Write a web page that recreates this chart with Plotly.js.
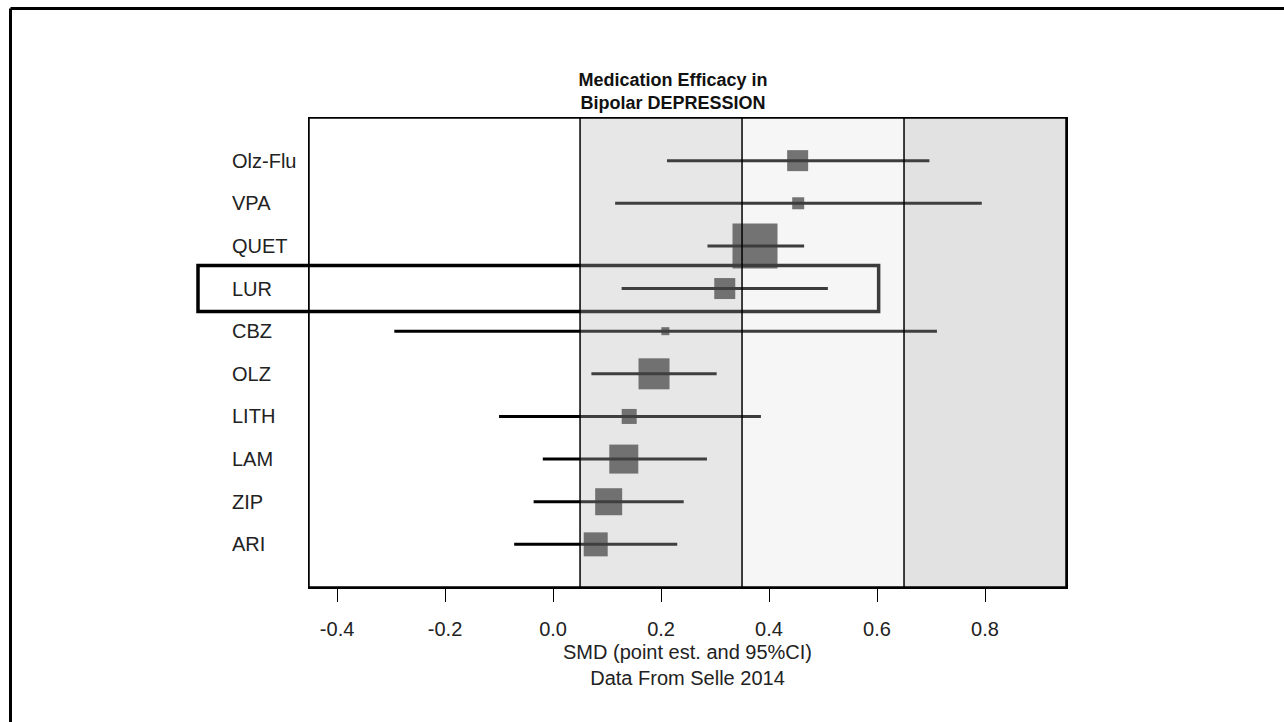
<!DOCTYPE html>
<html>
<head>
<meta charset="utf-8">
<script src="https://cdn.plot.ly/plotly-3.0.1.min.js"></script>
<style>html,body{margin:0;padding:0;background:#fff;}#chart{width:1284px;height:722px;}</style>
</head>
<body>
<div id="chart"></div>
<script>
// ---- data (top row first) ----
const drugs = ["Olz-Flu", "VPA", "QUET", "LUR", "CBZ", "OLZ", "LITH", "LAM", "ZIP", "ARI"];
const smd   = [0.453, 0.454, 0.374, 0.318, 0.208, 0.187, 0.141, 0.131, 0.103, 0.079];
const ciLow = [0.211, 0.115, 0.286, 0.127, -0.294, 0.071, -0.100, -0.019, -0.036, -0.072];
const ciHigh= [0.697, 0.794, 0.465, 0.509, 0.711, 0.303, 0.385, 0.285, 0.242, 0.230];
const weightBox = [21, 12, 45, 21, 8, 31, 15, 29, 27, 24];   // drawn square side (px), study weight
const bandEdges = [0.05, 0.35, 0.65, 0.95];
const tickVals  = [-0.4, -0.2, 0.0, 0.2, 0.4, 0.6, 0.8];
const tickLabels= ["-0.4", "-0.2", "0.0", "0.2", "0.4", "0.6", "0.8"];
const highlighted = "LUR";
const titleLines = ["Medication Efficacy in", "Bipolar DEPRESSION"];

// ---- layout geometry ----
const W = 1284, H = 722;
const mL = 309, mR = 218, mT = 118, mB = 135;
const xRange = [-0.452, 0.95];
const plotW = W - mL - mR, plotH = H - mT - mB;
const pxX = p => (p - mL) / plotW;          // page px -> paper x
const pxY = p => (H - mB - p) / plotH;      // page px -> paper y
const dataToPaperX = v => (v - xRange[0]) / (xRange[1] - xRange[0]);
const FONT = "Liberation Sans, Arial, sans-serif";

const n = drugs.length;
const yPos = drugs.map((d, i) => n - i);   // top row = n

const trace = {
  type: "scatter",
  mode: "markers",
  x: smd,
  y: yPos,
  marker: { symbol: "square", size: weightBox, color: "#000", line: { width: 0 } },
  error_x: {
    type: "data", symmetric: false,
    array: ciHigh.map((h, i) => h - smd[i]),
    arrayminus: ciLow.map((l, i) => smd[i] - l),
    thickness: 3, width: 0, color: "#000"
  },
  hoverinfo: "skip",
  showlegend: false
};

const shapes = [];
// outer frame (top and left edges)
shapes.push({ type: "line", xref: "paper", yref: "paper", x0: pxX(10.5), x1: pxX(W), y0: pxY(8.5), y1: pxY(8.5), line: { color: "#000", width: 3 } });
shapes.push({ type: "line", xref: "paper", yref: "paper", x0: pxX(10.5), x1: pxX(10.5), y0: pxY(8.5), y1: pxY(H), line: { color: "#000", width: 3 } });
// highlight box around LUR row
const hi = n - drugs.indexOf(highlighted);
shapes.push({ type: "rect", xref: "paper", yref: "y", layer: "above",
  x0: pxX(198), x1: dataToPaperX(0.603), y0: hi - 0.54, y1: hi + 0.54,
  line: { color: "#000", width: 3.5 }, fillcolor: "rgba(0,0,0,0)" });
// shaded effect-size bands (overlay)
const bandFill = ["rgba(185,185,185,0.34)", "rgba(222,222,222,0.27)", "rgba(176,176,176,0.36)"];
for (let i = 0; i < bandEdges.length - 1; i++) {
  shapes.push({ type: "rect", xref: "x", yref: "paper", layer: "above",
    x0: bandEdges[i], x1: bandEdges[i + 1], y0: 0, y1: 1,
    fillcolor: bandFill[i], line: { width: 0 } });
}
// band boundary lines
for (let i = 0; i < bandEdges.length - 1; i++) {
  shapes.push({ type: "line", xref: "x", yref: "paper", layer: "above",
    x0: bandEdges[i], x1: bandEdges[i], y0: 0, y1: 1, line: { color: "#000", width: 1.5 } });
}
// plot box
shapes.push({ type: "rect", xref: "paper", yref: "paper", layer: "above",
  x0: 0, x1: 1, y0: 0, y1: 1, line: { color: "#000", width: 1.5 }, fillcolor: "rgba(0,0,0,0)" });

// row labels, left aligned
const annotations = drugs.map((d, i) => ({
  xref: "paper", yref: "y", x: pxX(230), y: yPos[i], xanchor: "left", yanchor: "middle",
  text: d, showarrow: false, font: { family: FONT, size: 20, color: "#222" }
}));

const layout = {
  width: W, height: H,
  margin: { l: mL, r: mR, t: mT, b: mB, pad: 0 },
  paper_bgcolor: "#fff", plot_bgcolor: "#fff",
  title: {
    text: "<b>" + titleLines.join("<br>") + "</b>",
    font: { family: FONT, size: 18, color: "#111" },
    xref: "container", x: 673 / W, xanchor: "center",
    yref: "paper", y: 1, yanchor: "bottom", pad: { b: 32 }
  },
  xaxis: {
    range: xRange, tickvals: tickVals, ticktext: tickLabels,
    ticks: "outside", ticklen: 13, tickwidth: 1, tickcolor: "#000", ticklabelstandoff: 10,
    showgrid: false, zeroline: false, showline: true, mirror: true, linecolor: "#000", linewidth: 1.5,
    tickfont: { family: FONT, size: 20, color: "#222" },
    title: { text: "SMD (point est. and 95%CI)<br>Data From Selle 2014", standoff: 6,
      font: { family: FONT, size: 20, color: "#222" } },
    fixedrange: true
  },
  yaxis: {
    range: [0, n + 1], showticklabels: false, ticks: "", showgrid: false, zeroline: false,
    showline: true, mirror: true, linecolor: "#000", linewidth: 1.5, fixedrange: true
  },
  shapes: shapes,
  annotations: annotations,
  showlegend: false
};

Plotly.newPlot("chart", [trace], layout, { displayModeBar: false, staticPlot: true });
</script>
</body>
</html>
